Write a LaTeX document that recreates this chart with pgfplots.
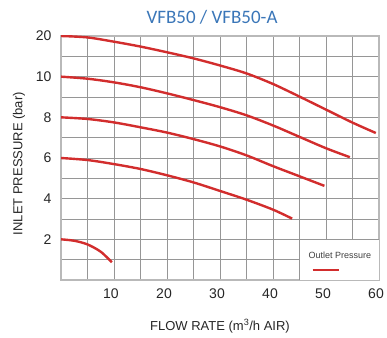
\documentclass[border=0pt]{standalone}
\usepackage{fontspec}
\setmainfont{Liberation Sans}
\newfontfamily\titlefont{Carlito}
\usepackage{pgfplots}
\pgfplotsset{compat=1.18}
\definecolor{curvered}{RGB}{210,45,45}
\definecolor{gridgray}{RGB}{150,150,150}
\definecolor{framegray}{RGB}{185,185,185}
\definecolor{titleblue}{RGB}{58,118,184}
\begin{document}
\begin{tikzpicture}
\begin{axis}[name=ax, scale only axis, width=318pt, height=244pt,
  xmin=0, xmax=60, ymin=0, ymax=12,
  xtick={10,20,...,60}, minor xtick={5,15,...,55},
  ytick={2,4,...,12}, yticklabels={2,4,6,8,10,20}, minor ytick={1,3,...,11},
  grid=both,
  grid style={gridgray, line width=0.9pt},
  minor grid style={gridgray, line width=0.9pt},
  major tick length=0pt, minor tick length=0pt,
  axis line style={draw=framegray, line width=1.2pt},
  /pgf/number format/assume math mode=true,
  tick label style={font=\fontsize{14}{16}\selectfont, text=black!85},
  xticklabel style={anchor=center, yshift=-14pt, xshift=-3pt},
  yticklabel style={anchor=east, xshift=-6pt},
  every axis x label/.style={at={(axis description cs:0.5,-0.1885)}, anchor=center},
  every axis y label/.style={at={(axis description cs:-0.132,0.477)}, rotate=90, anchor=center},
  xlabel={FLOW RATE (m\textsuperscript{3}/h AIR)},
  ylabel={INLET PRESSURE (bar)},
  label style={font=\fontsize{13}{15}\selectfont, text=black!85},
  title={VFB50 / VFB50-A},
  every axis title/.style={at={(axis description cs:0.475,1.078)}, anchor=center, font=\titlefont\fontsize{19}{21}\selectfont, text=titleblue},
  legend style={at={(axis cs:47.3,0.49)}, anchor=west, draw=none, fill=none, inner sep=0pt, outer sep=0pt},
  legend image code/.code={\draw[curvered, line width=2pt] (0pt,0pt) -- (26pt,0pt);},
  every axis plot/.append style={curvered, line width=2.4pt, smooth, no markers},
]
\fill[white] (axis cs:45,0) rectangle (axis cs:60,2);
\draw[gridgray, line width=0.9pt] (axis cs:45,0) |- (axis cs:60,2);
\node[font=\fontsize{9}{10}\selectfont, text=black!75] at (axis cs:52.6,1.23) {Outlet Pressure};

\addplot[curvered] coordinates {(0,12) (5,11.93) (10,11.72) (15,11.48) (20,11.2) (25,10.9) (30,10.55) (35,10.16) (40,9.64) (45,9.02) (50,8.38) (55,7.74) (59.4,7.23)};
\addlegendentry{}
\addplot[forget plot] coordinates {(0,10) (5,9.9) (10,9.72) (15,9.48) (20,9.18) (25,8.85) (30,8.5) (35,8.1) (40,7.6) (45,7.04) (50,6.48) (54.5,6.04)};
\addplot[forget plot] coordinates {(0,8) (5,7.92) (10,7.75) (15,7.51) (20,7.25) (25,6.93) (30,6.57) (35,6.13) (40,5.6) (45,5.1) (49.7,4.63)};
\addplot[forget plot] coordinates {(0,6) (5,5.9) (10,5.7) (15,5.46) (20,5.15) (25,4.8) (30,4.38) (35,3.95) (40,3.46) (43.6,3.02)};
\addplot[forget plot] coordinates {(0,2) (2.5,1.93) (5,1.75) (7.5,1.39) (9.6,0.87)};
\end{axis}
\pgfresetboundingbox
\path[use as bounding box] ([shift={(-61pt,-57pt)}]ax.south west) rectangle ([shift={(8pt,36pt)}]ax.north east);
\end{tikzpicture}
\end{document}
